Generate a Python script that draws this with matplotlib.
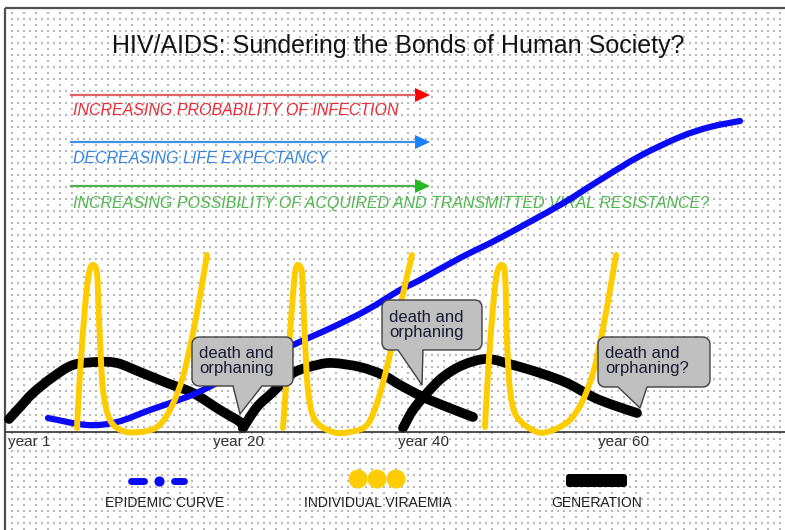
import numpy as np
import matplotlib
matplotlib.use("Agg")
import matplotlib.pyplot as plt
from matplotlib.patches import Polygon, Circle, FancyBboxPatch, PathPatch
from matplotlib.path import Path

plt.rcParams['font.family'] = ['Liberation Sans', 'DejaVu Sans']

# ---------------- data (x: years of epidemic, y: relative level) ----------------
epidemic_x = [4.2, 8.1, 11.1, 14.4, 18.1, 20.1, 24.4, 28.7, 32.7, 36.1, 39.4, 41.4,
              45.4, 49.4, 55.4, 59.4, 63.4, 67.4, 70.4, 73.4]
epidemic_y = [1.4, 0.7, 1.0, 2.2, 3.5, 4.4, 6.6, 8.7, 10.5, 12.2, 14.2, 15.2,
              17.4, 19.4, 22.7, 25.2, 27.6, 29.5, 30.5, 31.1]

viraemia1_x = [7.1, 7.4, 7.9, 8.3, 8.7, 9.1, 9.25, 9.4, 9.7, 10.4, 11.7, 13.4,
               15.1, 16.4, 17.6, 18.4, 19.2, 20.1]
viraemia1_y = [0.4, 5.9, 12.5, 15.9, 16.7, 15.9, 12.5, 9.2, 4.2, 1.2, 0.1, 0.0,
               0.5, 2.2, 5.2, 8.5, 12.5, 17.7]
viraemia2_x = [27.7, 28.1, 28.6, 28.9, 29.2, 29.6, 29.75, 29.9, 30.2, 30.9, 32.7, 34.4,
               36.1, 37.2, 38.1, 38.7, 39.4, 40.6]
viraemia2_y = [0.4, 5.9, 12.5, 15.9, 16.7, 15.9, 12.5, 9.2, 4.2, 1.2, 0.0, 0.0,
               0.7, 3.2, 6.5, 9.2, 12.5, 17.7]
viraemia3_x = [47.9, 48.2, 48.7, 49.1, 49.6, 49.9, 50.0, 50.1, 50.4, 51.1, 53.1, 54.7,
               56.4, 57.7, 58.7, 59.4, 60.1, 61.0]
viraemia3_y = [0.5, 5.9, 12.5, 15.9, 16.7, 15.9, 12.5, 9.2, 4.2, 1.5, 0.0, 0.2,
               1.2, 3.2, 5.9, 8.9, 12.5, 17.7]

generation1_x = [0.3, 1.4, 2.7, 4.7, 6.7, 9.1, 11.1, 13.4, 16.1, 18.7, 21.4, 23.4, 23.7]
generation1_y = [1.3, 2.5, 3.9, 5.5, 6.7, 7.0, 6.9, 6.0, 4.9, 3.9, 2.2, 1.0, 0.4]
generation2_x = [23.7, 25.1, 26.7, 28.7, 31.1, 32.7, 35.4, 37.7, 39.4, 41.7, 44.1, 46.7]
generation2_y = [0.4, 2.5, 4.0, 5.9, 6.7, 6.9, 6.5, 5.7, 4.7, 3.5, 2.5, 1.5]
generation3_x = [39.7, 40.7, 42.1, 43.7, 45.7, 48.1, 50.7, 53.4, 56.1, 58.7, 60.7, 63.1]
generation3_y = [0.4, 2.2, 3.9, 5.5, 6.7, 7.3, 6.7, 5.9, 4.9, 3.5, 2.7, 1.9]

tick_positions = [0.2, 20.7, 39.2, 59.2]
tick_labels = ['year 1', 'year 20', 'year 40', 'year 60']

title = 'HIV/AIDS: Sundering the Bonds of Human Society?'
trend_labels = ['INCREASING PROBABILITY OF INFECTION',
                'DECREASING LIFE EXPECTANCY',
                'INCREASING POSSIBILITY OF ACQUIRED AND TRANSMITTED VIRAL RESISTANCE?']
callout_texts = ['death and\norphaning', 'death and\norphaning', 'death and\norphaning?']
legend_labels = ['EPIDEMIC CURVE', 'INDIVIDUAL VIRAEMIA', 'GENERATION']

# ---------------- styles ----------------
BLUE = '#0a0af5'
YELLOW = '#ffcc00'
BLACK = '#000000'
W, H = 785, 530

fig = plt.figure(figsize=(W / 100, H / 100), dpi=100)
fig.patch.set_facecolor('white')

# background (pixel coordinates)
bg = fig.add_axes([0, 0, 1, 1], zorder=0)
bg.set_xlim(0, W)
bg.set_ylim(H, 0)
bg.axis('off')

# dotted grid pattern
gx, gy = [], []
for k, yy in enumerate(np.arange(13, H, 6)):
    step = 12 if k % 2 == 0 else 6
    xs = np.arange(12, W, step)
    gx.extend(xs)
    gy.extend([yy] * len(xs))
bg.scatter(gx, gy, s=1.3, marker='s', color='#b9b9b9', linewidths=0)

# frame
bg.plot([5, W], [8, 8], color='#505050', lw=1.6, solid_capstyle='butt')
bg.plot([5, 5], [8, H], color='#505050', lw=1.6, solid_capstyle='butt')

# title
bg.text(398.5, 53, title, fontsize=18, color='#141414', ha='center', va='baseline')

# trend arrows
arrow_y = [95, 142, 186]
line_cols = ['#e06464', '#3f8fe0', '#4cb04c']
head_cols = ['#ff0000', '#1a80ff', '#22b822']
text_cols = ['#ec2a34', '#3284e6', '#4cb84c']
text_base = [115, 163, 208]
for yy, lc, hc, tc, tb, lab in zip(arrow_y, line_cols, head_cols, text_cols, text_base, trend_labels):
    bg.plot([70, 416], [yy, yy], color=lc, lw=1.6, solid_capstyle='butt')
    bg.add_patch(Polygon([(415, yy - 7), (430, yy), (415, yy + 7)], closed=True,
                         facecolor=hc, edgecolor='none'))
    bg.text(73, tb, lab, fontsize=11.5, style='italic', color=tc, ha='left', va='baseline')

# legend
bg.plot([130.5, 143.5], [481, 481], color=BLUE, lw=5, solid_capstyle='round')
bg.plot([159], [481], marker='o', ms=6.3, color=BLUE, mec=BLUE)
bg.plot([173.5, 183.5], [481, 481], color=BLUE, lw=5, solid_capstyle='round')
for cx in [358, 377, 396]:
    bg.add_patch(Circle((cx, 479), 9.5, facecolor=YELLOW, edgecolor='none'))
bg.add_patch(FancyBboxPatch((569, 477), 55, 7, boxstyle='round,pad=3',
                            facecolor=BLACK, edgecolor='none'))
for cx, lab in zip([165, 377.5, 597], legend_labels):
    bg.text(cx, 507, lab, fontsize=10, color='#1e1e1e', ha='center', va='baseline')

# main axes (data)
ax = fig.add_axes([6 / W, (H - 432) / H, (W - 6) / W, (432 - 8) / H], zorder=1)
ax.patch.set_alpha(0)
ax.set_xlim(0, 77.9)
ax.set_ylim(0, 42.4)
for s in ['top', 'right', 'left']:
    ax.spines[s].set_visible(False)
ax.spines['bottom'].set_color('#303030')
ax.spines['bottom'].set_linewidth(1.2)
ax.set_yticks([])
ax.set_xticks(tick_positions)
ax.set_xticklabels(tick_labels, ha='left', fontsize=11, color='#333333')
ax.tick_params(axis='x', length=0, pad=2)


def smooth_path(xs, ys):
    """Catmull-Rom curve through the given points, as cubic Bezier segments."""
    P = np.column_stack([xs, ys]).astype(float)
    n = len(P)
    verts = [P[0]]
    codes = [Path.MOVETO]
    for i in range(n - 1):
        p0 = P[i - 1] if i > 0 else P[i]
        p1, p2 = P[i], P[i + 1]
        p3 = P[i + 2] if i + 2 < n else P[i + 1]
        verts += [p1 + (p2 - p0) / 6.0, p2 - (p3 - p1) / 6.0, p2]
        codes += [Path.CURVE4] * 3
    return Path(verts, codes)


def draw_curve(a, xs, ys, color, lw, z):
    a.add_patch(PathPatch(smooth_path(xs, ys), facecolor='none', edgecolor=color, lw=lw,
                          capstyle='round', joinstyle='round', clip_on=False, zorder=z))


for gxs, gys in [(generation1_x, generation1_y), (generation2_x, generation2_y),
                 (generation3_x, generation3_y)]:
    draw_curve(ax, gxs, gys, BLACK, 7, 2)
draw_curve(ax, epidemic_x, epidemic_y, BLUE, 4.5, 3)
for vxs, vys in [(viraemia1_x, viraemia1_y), (viraemia2_x, viraemia2_y),
                 (viraemia3_x, viraemia3_y)]:
    draw_curve(ax, vxs, vys, YELLOW, 4.3, 4)

# overlay for callouts (pixel coordinates)
ov = fig.add_axes([0, 0, 1, 1], zorder=2)
ov.patch.set_alpha(0)
ov.set_xlim(0, W)
ov.set_ylim(H, 0)
ov.axis('off')


def callout(a, x0, y0, x1, y1, tx0, tx1, tip, text, r=7):
    def arc(cx, cy, t0, t1):
        t = np.radians(np.linspace(t0, t1, 8))
        return list(zip(cx + r * np.cos(t), cy + r * np.sin(t)))
    pts = []
    pts += arc(x1 - r, y0 + r, -90, 0)
    pts += arc(x1 - r, y1 - r, 0, 90)
    pts += [(tx1, y1), tip, (tx0, y1)]
    pts += arc(x0 + r, y1 - r, 90, 180)
    pts += arc(x0 + r, y0 + r, 180, 270)
    a.add_patch(Polygon(pts, closed=True, facecolor='#c0c0c0', edgecolor='#404040',
                        lw=1.0, joinstyle='round'))
    a.text(x0 + 7, (y0 + y1) / 2 - 0.5, text, fontsize=12, color='#1a1a30',
           ha='left', va='center', linespacing=1.0)


callout(ov, 192, 337, 293, 386, 233, 262, (240, 414), callout_texts[0])
callout(ov, 382, 300, 482, 350, 398, 423, (422, 385), callout_texts[1])
callout(ov, 598, 337, 710, 387, 618, 647, (640, 408), callout_texts[2])

fig.savefig('out.png', dpi=100)
